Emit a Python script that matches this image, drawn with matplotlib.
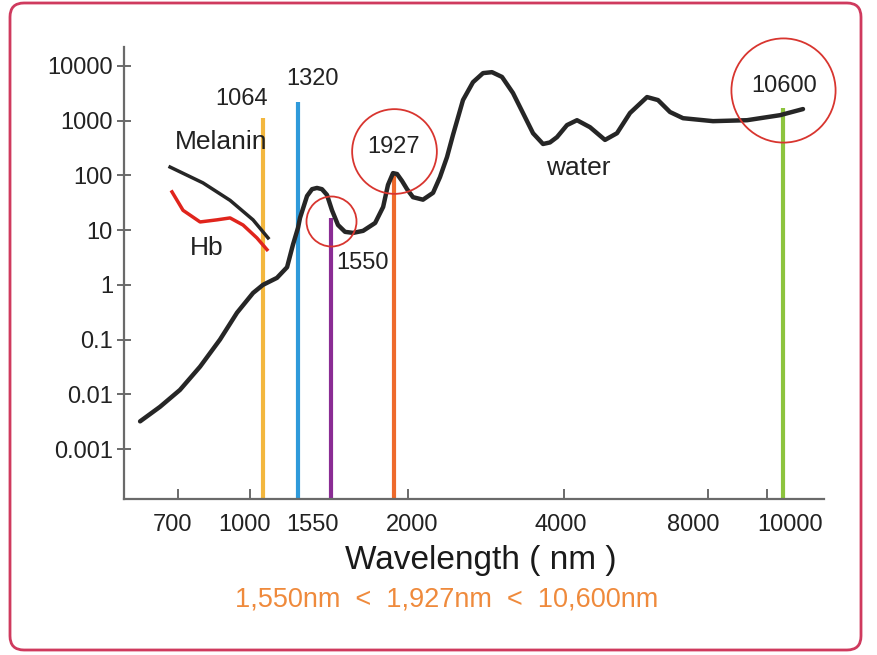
import numpy as np
import matplotlib
matplotlib.use('Agg')
import matplotlib.pyplot as plt
from matplotlib.patches import FancyBboxPatch
from matplotlib.ticker import NullLocator, FixedFormatter
from matplotlib.transforms import IdentityTransform, ScaledTranslation, blended_transform_factory

plt.rcParams['font.family'] = ['Liberation Sans', 'DejaVu Sans']

# absorption curves (wavelength nm, relative absorption)
water_wl = [542, 625, 708, 792, 875, 946, 1015, 1064, 1166, 1240,
            1283, 1320, 1334, 1383, 1418, 1452, 1487, 1522, 1556, 1592,
            1634, 1682, 1742, 1814, 1862, 1891, 1921, 1943, 1969, 1995,
            2064, 2192, 2321, 2410, 2500, 2577, 2705, 2833, 2962, 3077,
            3205, 3346, 3474, 3603, 3731, 3820, 3910, 4083, 4361, 4722,
            5139, 5472, 5833, 6306, 6611, 6944, 7306, 8170, 9322, 10488,
            11332]
water_abs = [0.0032, 0.0059, 0.012, 0.032, 0.10, 0.31, 0.71, 1.0, 1.34, 2.1,
             5.4, 11, 16.7, 42, 56, 59, 56, 44, 23, 12.4,
             9.3, 8.9, 9.7, 13.5, 26.5, 67, 110, 106, 79, 56,
             40, 36, 48, 93, 216, 550, 2380, 5050, 7400, 7700,
             6300, 3200, 1380, 590, 375, 400, 500, 830, 1020, 760,
             445, 590, 1380, 2700, 2380, 1440, 1110, 980, 1020, 1260,
             1630]

melanin_wl = [667, 804, 917, 1015, 1101]
melanin_abs = [142, 73, 35, 15.4, 7.2]

hb_wl = [675, 721, 792, 862, 917, 971, 1034, 1093]
hb_abs = [50, 23, 14.1, 15.4, 16.7, 12.4, 7.2, 4.4]

# laser wavelengths
laser_wl = [1064, 1320, 1550, 1927, 10600]
laser_top = [1120, 2180, 16.6, 110, 1700]
laser_colors = ['#F3B73E', '#2F9ADA', '#8A2C94', '#EE6A2C', '#8DC43E']

highlight_wl = [1550, 1927, 10600]
highlight_abs = [14.7, 280, 3630]
highlight_size = [36, 61, 75]

xtick_vals = [700, 1000, 2000, 4000, 8000, 10000]
xlabel_vals = [700, 1000, 1550, 2000, 4000, 8000, 10000]
ytick_vals = [0.001, 0.01, 0.1, 1, 10, 100, 1000, 10000]
ytick_labels = ['0.001', '0.01', '0.1', '1', '10', '100', '1000', '10000']

# piecewise warp of the wavelength axis (schematic, not linear / log)
warp_wl = [1, 475, 700, 1000, 1064, 1320, 1550, 1927, 2000, 4000, 8000, 10000, 10600, 12100, 1e7]
warp_px = [10, 124, 178, 250, 263, 298, 331, 394, 408, 564, 708, 767, 783, 824, 3.6e5]


def fwd(x):
    return np.interp(x, warp_wl, warp_px)


def inv(p):
    return np.interp(p, warp_px, warp_wl)


fig = plt.figure(figsize=(8.77, 6.55), dpi=100)
ax = fig.add_axes([124 / 877, 1 - 499 / 655, 700 / 877, 452 / 655])

ax.set_xscale('function', functions=(fwd, inv))
ax.set_yscale('log')
ax.set_xlim(475, 12100)
ax.set_ylim(1.22e-4, 2.22e4)

ylo = ax.get_ylim()[0]
for wl, top, c in zip(laser_wl, laser_top, laser_colors):
    ax.plot([wl, wl], [ylo, top], color=c, lw=3, solid_capstyle='butt', zorder=2)

ax.plot(water_wl, water_abs, color='#262626', lw=3.2, solid_joinstyle='round',
        solid_capstyle='round', zorder=3)
ax.plot(melanin_wl, melanin_abs, color='#262626', lw=2.5, solid_joinstyle='round', zorder=3)
ax.plot(hb_wl, hb_abs, color='#E0241C', lw=2.5, solid_joinstyle='round', zorder=3)

for wl, v, s in zip(highlight_wl, highlight_abs, highlight_size):
    ax.plot(wl, v, 'o', ms=s, mfc='none', mec='#D8352F', mew=1.3, zorder=4, clip_on=False)

lab = dict(fontsize=17, color='#222222', ha='center', va='center', textcoords='offset pixels')
word = dict(lab, fontsize=19)
ax.annotate('1064', (1064, 1120), xytext=(-21, 19), **lab)
ax.annotate('1320', (1320, 2180), xytext=(14, 23), **lab)
ax.annotate('1550', (1550, 16.6), xytext=(32, -45), **lab)
ax.annotate('1927', (1927, 110), xytext=(0, 26), **lab)
ax.annotate('10600', (10600, 1700), xytext=(1, 22), **lab)
ax.annotate('Melanin', (667, 142), xytext=(51, 25), **word)
ax.annotate('Hb', (675, 50), xytext=(35, -56), **word)
ax.annotate('water', (3731, 375), xytext=(35, -24), **word)

# axes styling
for s in ['top', 'right']:
    ax.spines[s].set_visible(False)
for s in ['left', 'bottom']:
    ax.spines[s].set_color('#6a6a6a')
    ax.spines[s].set_linewidth(1.6)

ax.set_yticks(ytick_vals)
ax.yaxis.set_major_formatter(FixedFormatter(ytick_labels))
ax.yaxis.set_minor_locator(NullLocator())
ax.tick_params(axis='y', direction='inout', length=10, width=1.4, color='#6a6a6a',
               labelsize=17, labelcolor='#222222', pad=3)

ax.set_xticks(xtick_vals)
ax.set_xticklabels([])
ax.xaxis.set_minor_locator(NullLocator())
ax.tick_params(axis='x', direction='in', length=7, width=1.4, color='#6a6a6a')

# x labels placed by hand like the schematic
label_shift = {700: -5, 1000: -5, 1550: -18, 2000: 4, 4000: -3, 8000: -15, 10000: 23}
bt = blended_transform_factory(ax.transData, ax.transAxes)
for v in xlabel_vals:
    tr = bt + ScaledTranslation(label_shift[v] / 100, -26 / 100, fig.dpi_scale_trans)
    ax.text(v, 0, str(v), transform=tr, fontsize=17, color='#222222',
            ha='center', va='center', clip_on=False)

fig.text(481 / 877, 1 - 561 / 655, 'Wavelength ( nm )', fontsize=24, color='#1a1a1a',
         ha='center', va='center')
fig.text(447 / 877, 1 - 599 / 655, '1,550nm  <  1,927nm  <  10,600nm', fontsize=19.5,
         color='#EF8A3C', ha='center', va='center')

frame = FancyBboxPatch((10, 5), 851, 647, boxstyle='round,pad=0,rounding_size=14',
                       transform=IdentityTransform(), fill=False, ec='#CF3A5E', lw=2)
fig.add_artist(frame)

fig.savefig('out.png', dpi=100)
